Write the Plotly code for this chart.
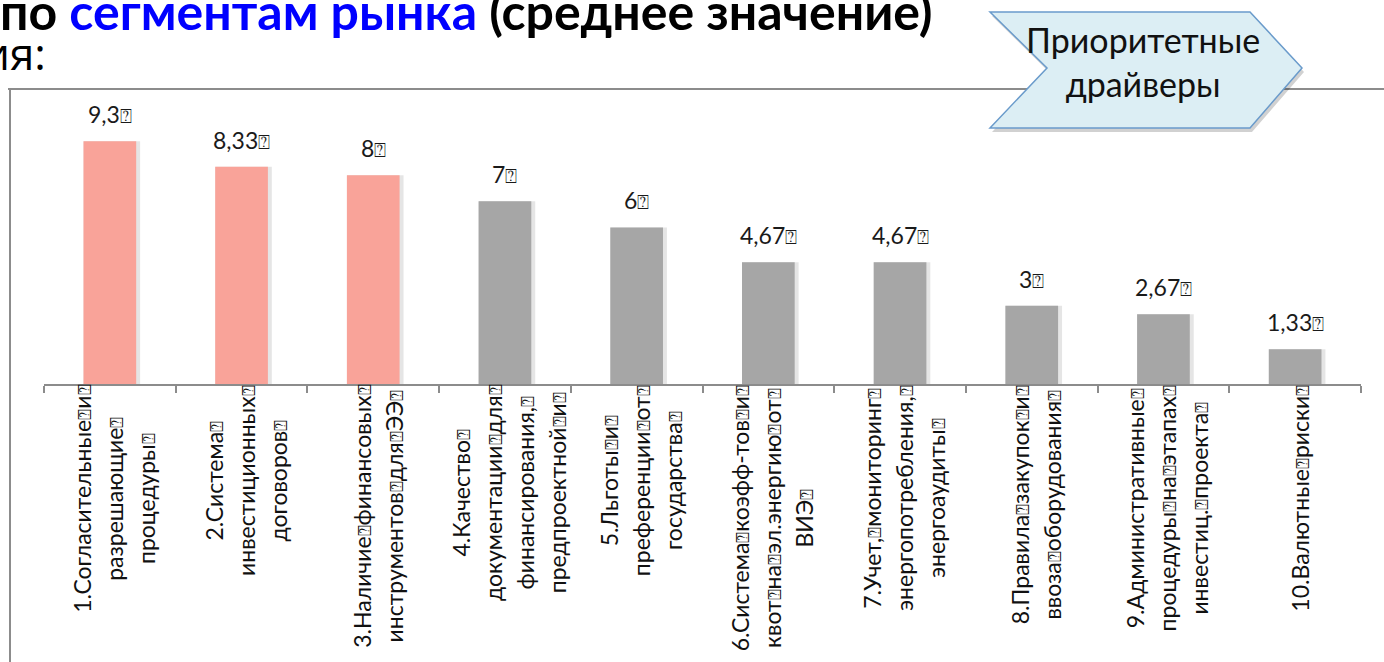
import plotly.graph_objects as go

# ---------------- data ----------------
BOX = "\u2370"
label_lines = [
    ["1.Согласительные" + BOX + "и" + BOX, "разрешающие" + BOX, "процедуры" + BOX],
    ["2.Система" + BOX, "инвестиционных" + BOX, "договоров" + BOX],
    ["3.Наличие" + BOX + "финансовых" + BOX, "инструментов" + BOX + "для" + BOX + "ЭЭ" + BOX],
    ["4.Качество" + BOX, "документации" + BOX + "для" + BOX, "финансирования," + BOX, "предпроектной" + BOX + "и" + BOX],
    ["5.Льготы" + BOX + "и" + BOX, "преференции" + BOX + "от" + BOX, "государства" + BOX],
    ["6.Система" + BOX + "коэфф-тов" + BOX + "и" + BOX, "квот" + BOX + "на" + BOX + "эл.энергию" + BOX + "от" + BOX, "ВИЭ" + BOX],
    ["7.Учет," + BOX + "мониторинг" + BOX, "энергопотребления," + BOX, "энергоаудиты" + BOX],
    ["8.Правила" + BOX + "закупок" + BOX + "и" + BOX, "ввоза" + BOX + "оборудования" + BOX],
    ["9.Административные" + BOX, "процедуры" + BOX + "на" + BOX + "этапах" + BOX, "инвестиц." + BOX + "проекта" + BOX],
    ["10.Валютные" + BOX + "риски" + BOX],
]
values = [9.3, 8.33, 8, 7, 6, 4.67, 4.67, 3, 2.67, 1.33]
priority = [True, True, True, False, False, False, False, False, False, False]

title_parts = ["по ", "сегментам рынка", " (среднее значение)"]
subtitle_tail = "ия:"
callout_lines = ["Приоритетные", "драйверы"]

# ---------------- styling ----------------
PINK = "#F9A399"
GRAY = "#A6A6A6"
LINE_GRAY = "#8C8C8C"
FONT = "Lato, 'Open Sans', sans-serif"

W, H = 1384, 662
ML, MR, MT, MB = 44, 23, 97, 278
PW = W - ML - MR
PH = H - MT - MB


def px(x):
    return (x - ML) / PW


def py(y):
    return (H - MB - y) / PH


def small_boxes(s, size):
    return s.replace(BOX, "<span style='font-size:%dpx'>%s</span>" % (size, BOX))


categories = [" ".join(l) for l in label_lines]
colors = [PINK if p else GRAY for p in priority]

fig = go.Figure()
# soft shadow behind the bars
fig.add_trace(go.Bar(
    x=categories, y=values, width=0.43, offset=-0.2,
    marker=dict(color="rgba(0,0,0,0.10)", line=dict(width=0)),
    hoverinfo="skip",
))
fig.add_trace(go.Bar(
    x=categories, y=values, width=0.4, offset=-0.2,
    marker=dict(color=colors, line=dict(width=0)),
    hoverinfo="skip",
))

annotations = []
# value labels
for c, v in zip(categories, values):
    txt = small_boxes((("%g" % v).replace(".", ",")) + BOX, 20)
    annotations.append(dict(
        x=c, y=v, xref="x", yref="y", text=txt, showarrow=False,
        yanchor="middle", xanchor="center", yshift=27,
        font=dict(family=FONT, size=23, color="#1a1a1a"),
    ))

# category labels (rotated, centered lines)
for c, lines in zip(categories, label_lines):
    txt = "<br>".join("<span style='font-size:23px'>%s</span>" % small_boxes(ln, 18) for ln in lines)
    annotations.append(dict(
        x=c, y=0, xref="x", yref="paper", text=txt, showarrow=False,
        textangle=-90, xanchor="center", yanchor="top", align="center",
        xshift=4, yshift=0, borderpad=0,
        font=dict(family=FONT, size=24.6, color="#111111"),
    ))

# title fragments (cut by the page edge)
annotations.append(dict(
    x=px(-1), y=py(11), xref="paper", yref="paper", xanchor="left", yanchor="middle",
    showarrow=False, borderpad=0,
    text="<b>%s<span style='color:#0000FF'>%s</span>%s</b>" % tuple(title_parts),
    font=dict(family=FONT, size=50, color="#000000"),
))
annotations.append(dict(
    x=px(47), y=py(53), xref="paper", yref="paper", xanchor="right", yanchor="middle",
    showarrow=False, borderpad=0, text=subtitle_tail,
    font=dict(family="'Open Sans', Lato, sans-serif", size=44, color="#000000"),
))
# callout text
annotations.append(dict(
    x=px(1143), y=py(62), xref="paper", yref="paper", xanchor="center", yanchor="middle",
    showarrow=False, borderpad=0, text="<br>".join(callout_lines),
    font=dict(family=FONT, size=34, color="#111111"),
))

shapes = []
# chart frame (top and left edge)
shapes.append(dict(type="line", xref="paper", yref="paper",
                   x0=px(8), y0=py(89), x1=px(W + 5), y1=py(89),
                   line=dict(color=LINE_GRAY, width=2), layer="below"))
shapes.append(dict(type="line", xref="paper", yref="paper",
                   x0=px(10), y0=py(89), x1=px(10), y1=py(H + 5),
                   line=dict(color=LINE_GRAY, width=2), layer="below"))

# callout pentagon (chevron) with soft shadow
pts = [(990, 12), (1250, 12), (1302, 68), (1250, 128), (990, 128), (1047, 68)]


def path(points, dx=0, dy=0):
    return "M " + " L ".join("%f,%f" % (px(x + dx), py(y + dy)) for x, y in points) + " Z"


shapes.append(dict(type="path", xref="paper", yref="paper", path=path(pts, 2, 4),
                   fillcolor="rgba(0,0,0,0.18)", line=dict(width=0), layer="above"))
shapes.append(dict(type="path", xref="paper", yref="paper", path=path(pts),
                   fillcolor="#DCEEF4", line=dict(color="#6A9BCB", width=1.5), layer="above"))

fig.update_layout(
    width=W, height=H,
    margin=dict(l=ML, r=MR, t=MT, b=MB, pad=0),
    paper_bgcolor="white", plot_bgcolor="white",
    showlegend=False, barmode="overlay",
    xaxis=dict(range=[-0.5, 9.5], showline=True, linecolor=LINE_GRAY, linewidth=2,
               ticks="outside", tickson="boundaries", ticklen=7, tickwidth=2,
               tickcolor=LINE_GRAY, showticklabels=False, showgrid=False, zeroline=False,
               fixedrange=True),
    yaxis=dict(range=[0, 11], visible=False, fixedrange=True),
    annotations=annotations,
    shapes=shapes,
)

fig.write_html(
    "out.html",
    config={"displayModeBar": False},
    post_script="document.body.style.margin='0';document.body.style.padding='0';"
                "document.documentElement.style.margin='0';document.body.style.overflow='hidden';",
)
